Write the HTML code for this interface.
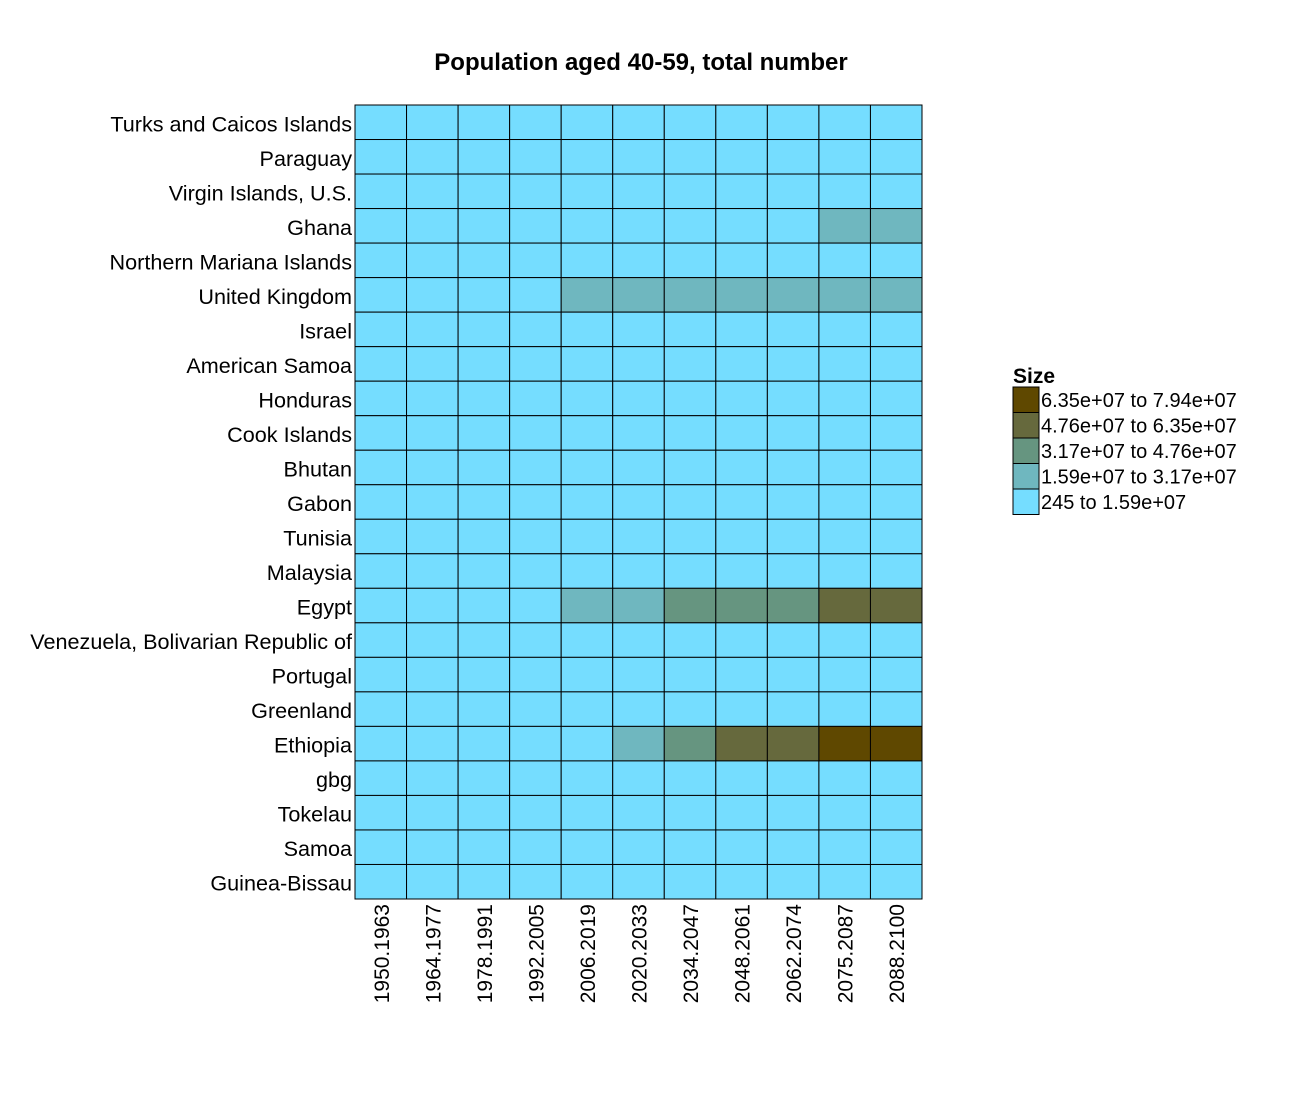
<!DOCTYPE html>
<html><head><meta charset="utf-8"><style>
body{margin:0;background:#fff;}
svg{font-family:"Liberation Sans",Arial,sans-serif;}
</style></head><body>
<svg id="chart" width="1300" height="1100">
<text x="641" y="70" text-anchor="middle" font-size="24" font-weight="bold">Population aged 40-59, total number</text>
</svg>
<script>
const countries=["Turks and Caicos Islands","Paraguay","Virgin Islands, U.S.","Ghana","Northern Mariana Islands","United Kingdom","Israel","American Samoa","Honduras","Cook Islands","Bhutan","Gabon","Tunisia","Malaysia","Egypt","Venezuela, Bolivarian Republic of","Portugal","Greenland","Ethiopia","gbg","Tokelau","Samoa","Guinea-Bissau"];
const periods=["1950.1963","1964.1977","1978.1991","1992.2005","2006.2019","2020.2033","2034.2047","2048.2061","2062.2074","2075.2087","2088.2100"];
// values in millions
const ghana=[1,1.5,2,3,5,8,11,14,15,17,18];
const uk=[12,12.5,12,14,17,17.5,17,17.5,18,18,18];
const egypt=[3,4,6,10,18,27,35,40,45,50,52];
const ethiopia=[2,3,4,7,13,22,35,50,60,70,79];
const small=[0.1,0.1,0.2,0.3,0.5,0.6,0.7,0.8,0.9,1,1];
const rowValues={"Ghana":ghana,"United Kingdom":uk,"Egypt":egypt,"Ethiopia":ethiopia};
const breaks=[15.9,31.7,47.6,63.5];
const colors=["#75DDFF","#6FB7BF","#669580","#66693D","#5F4800"];
const legendLabels=["6.35e+07 to 7.94e+07","4.76e+07 to 6.35e+07","3.17e+07 to 4.76e+07","1.59e+07 to 3.17e+07","245 to 1.59e+07"];
const svg=document.getElementById('chart');
const NS="http://www.w3.org/2000/svg";
const x0=355,x1=922,y0=105,y1=899;
const cw=(x1-x0)/periods.length, ch=(y1-y0)/countries.length;
const xPos=i=>x0+i*cw, yPos=j=>y0+j*ch;
function cls(v){let c=0;for(const b of breaks)if(v>=b)c++;return c;}
function mk(tag,attrs){const e=document.createElementNS(NS,tag);for(const k in attrs)e.setAttribute(k,attrs[k]);svg.appendChild(e);return e;}
countries.forEach((c,j)=>{
  const vals=rowValues[c]||small;
  vals.forEach((v,i)=>{
    const r=mk('rect',{x:xPos(i),y:yPos(j),width:cw,height:ch,fill:colors[cls(v)],stroke:'#000','stroke-width':1});
    
    
  });
  const t=mk('text',{x:352,y:yPos(j)+ch/2+9,'text-anchor':'end','font-size':21.6});
  t.textContent=c;
  
  
});
periods.forEach((p,i)=>{
  const cx=xPos(i)+cw/2+8;
  const t=mk('text',{x:cx,y:904,'text-anchor':'end','font-size':21,transform:`rotate(-90 ${cx} 904)`});
  t.textContent=p;
  
  
});
const lt=mk('text',{x:1013,y:383,'font-size':21,'font-weight':'bold'});
lt.textContent="Size";


legendLabels.forEach((l,k)=>{
  const y=387+k*25.5;
  const r=mk('rect',{x:1013,y:y,width:26,height:25.5,fill:colors[4-k],stroke:'#000','stroke-width':1});
  
  
  const t=mk('text',{x:1041,y:y+20,'font-size':20});
  t.textContent=l;
  
  
});
</script>
</body></html>
